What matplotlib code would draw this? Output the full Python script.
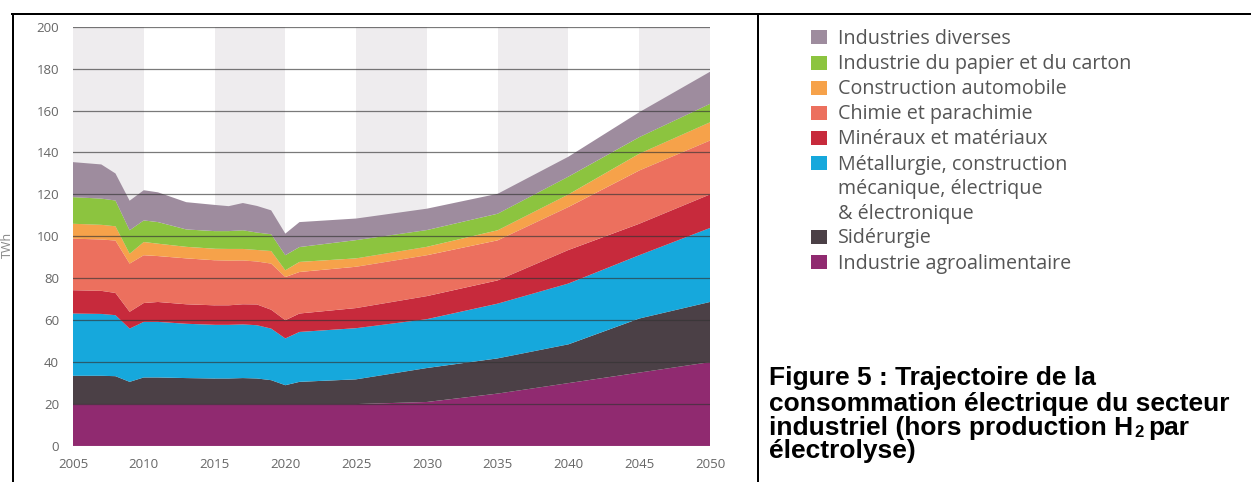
import matplotlib
matplotlib.use('Agg')
import matplotlib.pyplot as plt
from matplotlib.lines import Line2D
from matplotlib.patches import Rectangle

years = [2005, 2007, 2008, 2009, 2010, 2011, 2013, 2015, 2016, 2017, 2018, 2019,
         2020, 2021, 2025, 2030, 2035, 2040, 2045, 2050]

# TWh par secteur
agro = [20, 20, 20, 20, 20, 20, 20, 20, 20, 20, 20, 20, 20, 20, 20, 21, 25, 30, 35, 40]
siderurgie = [13.5, 13.5, 13.3, 10.6, 12.7, 12.7, 12.4, 12.2, 12.2, 12.4, 12.2, 11.4,
              9.0, 10.6, 11.8, 16.2, 16.8, 18.5, 25.8, 28.7]
metallurgie = [29.7, 29.5, 29.1, 25.4, 26.5, 26.5, 25.9, 25.6, 25.6, 25.6, 25.4, 24.6,
               22.3, 23.8, 24.4, 23.3, 26.1, 29.0, 30.2, 35.3]
mineraux = [11.1, 11.0, 10.6, 8.0, 9.0, 9.5, 9.3, 9.3, 9.3, 9.6, 9.9, 9.0,
            8.7, 8.8, 9.6, 11.0, 11.1, 16.0, 15.0, 16.0]
chimie = [24.6, 24.5, 25.0, 23.0, 22.8, 21.9, 21.9, 21.5, 21.3, 20.9, 20.5, 22.0,
          20.6, 19.8, 19.7, 19.5, 19.1, 20.5, 25.4, 25.7]
automobile = [7.1, 7.0, 6.8, 4.7, 6.3, 5.9, 5.5, 5.5, 5.6, 5.5, 5.5, 6.0,
              3.2, 4.8, 4.0, 4.0, 4.8, 6.0, 8.0, 8.7]
papier = [12.7, 12.5, 12.3, 11.2, 10.3, 10.3, 8.3, 8.4, 8.5, 8.9, 8.3, 8.0,
          7.2, 7.1, 8.7, 8.0, 7.9, 8.5, 7.9, 8.8]
diverses = [16.7, 16.3, 12.9, 14.1, 14.4, 14.2, 13.0, 12.5, 11.9, 13.0, 12.7, 11.4,
            10.3, 11.9, 10.3, 10.2, 9.5, 9.5, 11.9, 15.3]

series = [agro, siderurgie, metallurgie, mineraux, chimie, automobile, papier, diverses]
colors = ['#902a70', '#4b4046', '#16a8dc', '#c72a3c', '#ec705e', '#f6a24a', '#8cc43f', '#9e8c9e']

legend_labels = ['Industries diverses', 'Industrie du papier et du carton',
                 'Construction automobile', 'Chimie et parachimie',
                 'Minéraux et matériaux',
                 'Métallurgie, construction\nmécanique, électrique\n& électronique',
                 'Sidérurgie', 'Industrie agroalimentaire']
legend_colors = colors[::-1]

fig = plt.figure(figsize=(12.51, 4.82), dpi=100)
W, H = 1251, 482

ax = fig.add_axes([73 / W, 36 / H, 637 / W, 419.3 / H])
ax.stackplot(years, *series, colors=colors, linewidth=0, zorder=2)

# bandes grises alternées
for x0 in range(2005, 2050, 10):
    ax.axvspan(x0, x0 + 5, color='#eeecee', zorder=0, lw=0)
for y in range(20, 201, 20):
    ax.axhline(y, color='#333333', lw=0.9, alpha=0.65, zorder=3)
ax.axhline(0, color='#cfcfcf', lw=0.8, zorder=3)

ax.set_xlim(2005, 2050)
ax.set_ylim(0, 200)
ax.set_xticks(range(2005, 2051, 5))
ax.set_yticks(range(0, 201, 20))
for s in ax.spines.values():
    s.set_visible(False)
ax.tick_params(length=0, colors='#666666', labelsize=9.5)
ax.tick_params(axis='x', pad=9)
ax.tick_params(axis='y', pad=10)
for lab in ax.get_xticklabels() + ax.get_yticklabels():
    lab.set_family('Open Sans')

fig.text(7 / W, 1 - 245 / H, 'TWh', rotation=90, ha='center', va='center',
         color='#888888', fontsize=9, family='Open Sans')

# légende
rows = [37, 63, 88, 113, 138, 163, 237, 262]
for lab, col, yc in zip(legend_labels, legend_colors, rows):
    fig.add_artist(Rectangle((811 / W, 1 - (yc + 7) / H), 16 / W, 14 / H,
                             transform=fig.transFigure, color=col, lw=0))
    for i, part in enumerate(lab.split('\n')):
        fig.text(838 / W, 1 - (yc + 6.5 + 24.5 * i) / H, part, ha='left', va='baseline',
                 color='#555555', fontsize=14.2, family='Open Sans')

# légende de la figure
cap = dict(ha='left', va='baseline', color='black', family='Liberation Sans', weight='bold')
fig.text(769 / W, 1 - 385 / H, 'Figure 5 : Trajectoire de la', fontsize=19, **cap)
fig.text(769 / W, 1 - 411 / H, 'consommation électrique du secteur', fontsize=19, **cap)
fig.text(769 / W, 1 - 458 / H, 'électrolyse)', fontsize=19, **cap)

renderer = fig.canvas.get_renderer()
t1 = fig.text(769 / W, 1 - 435 / H, 'industriel (hors production H', fontsize=19, **cap)
x1 = t1.get_window_extent(renderer).x1
t2 = fig.text(x1 / W + 1 / W, 1 - 437 / H, '2', fontsize=12, **cap)
x2 = t2.get_window_extent(renderer).x1
fig.text(x2 / W + 5 / W, 1 - 435 / H, 'par', fontsize=19, **cap)

# cadre
lw = 2 * 72 / 100
fig.add_artist(Line2D([12 / W, 1], [1 - 14 / H, 1 - 14 / H], color='black', lw=lw))
fig.add_artist(Line2D([13 / W, 13 / W], [0, 1 - 14 / H], color='black', lw=lw))
fig.add_artist(Line2D([758 / W, 758 / W], [0, 1 - 14 / H], color='black', lw=lw))

fig.savefig('out.png', dpi=100)
